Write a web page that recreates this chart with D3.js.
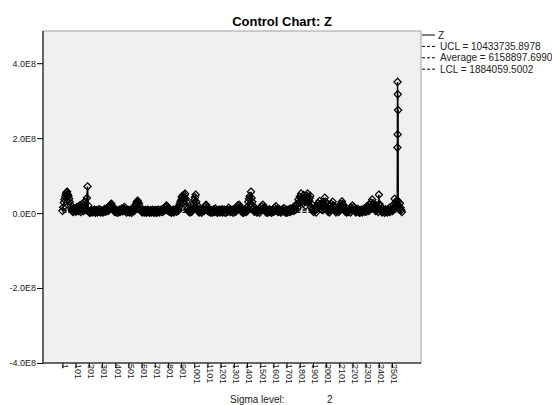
<!DOCTYPE html>
<meta charset="utf-8">
<style>
body { margin: 0; background: #fff; }
svg text { font-family: "Liberation Sans", Arial, sans-serif; }
</style>
<svg width="552" height="405"></svg>
<script src="https://cdn.jsdelivr.net/npm/d3@7/dist/d3.min.js"></script>
<script>

// Z in millions, read every 10th observation (1, 11, 21 ... 2571)
var obsStep = 10;
var zValues = [
  6, 28, 44, 55, 50, 38, 22, 9, 3, 12,
  4, 16, 5, 20, 3, 25, 6, 30, 8, 71,
  5, 2, 8, 3, 9, 1, 7, 4, 10, 2,
  6, 3, 11, 5, 14, 7, 18, 25, 16, 8,
  3, 7, 2, 9, 4, 12, 6, 16, 9, 3,
  8, 2, 7, 4, 12, 18, 26, 33, 24, 14,
  5, 9, 2, 8, 3, 7, 1, 8, 4, 6,
  2, 7, 3, 8, 5, 9, 11, 6, 15, 20,
  12, 4, 8, 3, 9, 5, 10, 14, 8, 24,
  34, 46, 40, 52, 30, 12, 6, 9, 4, 18,
  35, 49, 22, 8, 3, 9, 5, 11, 16, 22,
  14, 6, 2, 8, 4, 9, 12, 7, 3, 9,
  5, 10, 4, 8, 2, 9, 14, 10, 5, 8,
  3, 11, 16, 20, 22, 13, 6, 9, 4, 10,
  16, 30, 45, 57, 30, 12, 5, 9, 3, 8,
  14, 18, 22, 15, 6, 9, 4, 10, 7, 3,
  9, 14, 18, 11, 5, 8, 3, 10, 13, 6,
  9, 4, 8, 12, 7, 14, 18, 10, 25, 36,
  44, 52, 38, 48, 30, 40, 52, 34, 46, 24,
  12, 6, 10, 18, 26, 32, 22, 16, 30, 41,
  28, 12, 8, 20, 24, 30, 18, 9, 5, 11,
  16, 24, 31, 22, 12, 6, 10, 4, 9, 14,
  20, 16, 8, 5, 11, 7, 3, 9, 6, 12,
  10, 18, 14, 22, 28, 36, 26, 14, 20, 12,
  49, 18, 8, 12, 6, 10, 4, 9, 14, 8,
  12, 22, 38, 30, 34, 20, 26, 8
];
// the observations in between (6, 16, 26 ... 2576)
var zValuesMid = [
  15, 36, 50, 57, 45, 30, 14, 5, 8, 6,
  10, 9, 14, 8, 18, 10, 22, 12, 40, 20,
  1, 6, 2, 7, 3, 8, 2, 9, 4, 7,
  2, 8, 4, 10, 6, 12, 22, 20, 10, 4,
  9, 1, 6, 3, 8, 5, 11, 7, 2, 8,
  3, 9, 1, 8, 6, 22, 30, 28, 10, 6,
  2, 4, 7, 1, 9, 3, 6, 2, 9, 1,
  8, 1, 9, 2, 7, 3, 5, 10, 18, 8,
  6, 9, 1, 7, 2, 8, 4, 6, 16, 30,
  42, 28, 48, 38, 18, 5, 2, 3, 10, 26,
  42, 30, 12, 2, 7, 1, 8, 6, 20, 9,
  5, 9, 7, 1, 9, 3, 5, 1, 8, 2,
  8, 2, 9, 1, 7, 4, 6, 3, 9, 1,
  8, 4, 9, 12, 16, 5, 2, 1, 7, 3,
  8, 38, 24, 40, 20, 4, 8, 2, 7, 1,
  8, 10, 12, 7, 2, 1, 8, 3, 1, 9,
  4, 7, 9, 3, 9, 2, 8, 5, 4, 1,
  2, 9, 3, 5, 10, 6, 9, 20, 14, 28,
  30, 42, 26, 36, 20, 46, 28, 40, 16, 10,
  3, 8, 2, 14, 18, 24, 10, 8, 22, 30,
  14, 4, 2, 10, 16, 20, 8, 2, 9, 3,
  8, 14, 24, 12, 4, 2, 3, 8, 2, 6,
  10, 8, 2, 9, 3, 1, 8, 2, 9, 4,
  4, 8, 6, 14, 18, 22, 12, 6, 8, 3,
  24, 6, 2, 5, 1, 7, 2, 6, 3, 10,
  6, 14, 26, 20, 16, 10, 14, 3
];
var spikeObs = [2542, 2543, 2544, 2545, 2547, 2548];
var spikeValues = [175, 350, 210, 317, 275, 30];

var limitNames = ["UCL = 10433735.8978", "Average = 6158897.6990", "LCL = 1884059.5002"];
var limitValues = [10433735.8978, 6158897.6990, 1884059.5002];

var yTicks = [-4e8, -2e8, 0, 2e8, 4e8];
var yTickLabels = ["-4.0E8", "-2.0E8", "0.0E0", "2.0E8", "4.0E8"];
var xTicks = [1, 101, 201, 301, 401, 501, 601, 701, 801, 901, 1001, 1101, 1201,
  1301, 1401, 1501, 1601, 1701, 1801, 1901, 2001, 2101, 2201, 2301, 2401, 2501];

var svg = d3.select("svg");

var x = d3.scaleLinear().domain([-147, 2721]).range([43, 421]);
var y = d3.scaleLinear().domain([-4e8, 4.86e8]).range([363, 31]);

points = zValues.map((v, i) => ({obs: 1 + i * obsStep, z: v * 1e6}))
  .concat(zValuesMid.map((v, i) => ({obs: 6 + i * obsStep, z: v * 1e6})))
  .concat(spikeObs.map((o, i) => ({obs: o, z: spikeValues[i] * 1e6})))
  .sort((a, b) => a.obs - b.obs);

svg.append("text")
    .attr("x", 282).attr("y", 26)
    .attr("text-anchor", "middle")
    .style("font-size", "13px").style("font-weight", "bold")
    .text("Control Chart: Z");

svg.append("rect")
    .attr("x", 43).attr("y", 31)
    .attr("width", 378).attr("height", 332)
    .attr("fill", "#f0f0f0")
    .attr("stroke", "#a0a0a0");

svg.append("clipPath").attr("id", "plot")
  .append("rect").attr("x", 43).attr("y", 31).attr("width", 378).attr("height", 332);

var g = svg.append("g").attr("clip-path", "url(#plot)");

var first = points[0].obs, last = points[points.length - 1].obs;
g.selectAll(".limit")
  .data(limitValues)
  .enter().append("line")
    .attr("x1", x(first)).attr("x2", x(last))
    .attr("y1", d => y(d)).attr("y2", d => y(d))
    .attr("stroke", "black")
    .attr("stroke-dasharray", "4,2");

g.append("path")
    .datum(points)
    .attr("d", d3.line().x(d => x(d.obs)).y(d => y(d.z)))
    .attr("fill", "none")
    .attr("stroke", "black")
    .attr("stroke-width", 1.5);

g.selectAll(".pt")
  .data(points)
  .enter().append("path")
    .attr("transform", d => "translate(" + x(d.obs) + "," + y(d.z) + ")")
    .attr("d", "M0,-3.7L3.6,0L0,3.7L-3.6,0Z")
    .attr("fill", "none")
    .attr("stroke", "black")
    .attr("stroke-width", 1.25);

var yAxis = svg.append("g")
    .attr("transform", "translate(43,0)")
    .call(d3.axisLeft(y).tickValues(yTicks).tickFormat((d, i) => yTickLabels[i]).tickSize(6).tickPadding(1));
yAxis.select(".domain").remove();
yAxis.selectAll("text").style("font-size", "9px").attr("fill", "#222");

var xAxis = svg.append("g")
    .attr("transform", "translate(0,363)")
    .call(d3.axisBottom(x).tickValues(xTicks).tickFormat(d3.format("d")).tickSize(5));
xAxis.select(".domain").remove();
xAxis.selectAll("text")
    .attr("transform", "rotate(90)")
    .attr("x", 1).attr("y", -2).attr("dy", "0.35em")
    .attr("text-anchor", "start")
    .style("font-size", "9px").attr("fill", "#222");

svg.append("line").attr("x1", 43).attr("x2", 43).attr("y1", 31).attr("y2", 363).attr("stroke", "black");
svg.append("line").attr("x1", 43).attr("x2", 421).attr("y1", 363).attr("y2", 363).attr("stroke", "black");

var legend = svg.append("g").style("font-size", "10px");
var legendRows = ["Z"].concat(limitNames);
legendRows.forEach((name, i) => {
  var ly = 35 + i * 11.4;
  legend.append("line")
      .attr("x1", 422).attr("x2", 435)
      .attr("y1", ly).attr("y2", ly)
      .attr("stroke", "black")
      .attr("stroke-dasharray", i == 0 ? null : "3,2");
  legend.append("text")
      .attr("x", i == 0 ? 438 : 440).attr("y", ly)
      .attr("dy", "0.35em")
      .attr("fill", "#222")
      .text(name);
});

svg.append("text").attr("x", 230).attr("y", 403).style("font-size", "10px").attr("fill", "#222").text("Sigma level:");
svg.append("text").attr("x", 327).attr("y", 403).style("font-size", "10px").attr("fill", "#222").text("2");

</script>
